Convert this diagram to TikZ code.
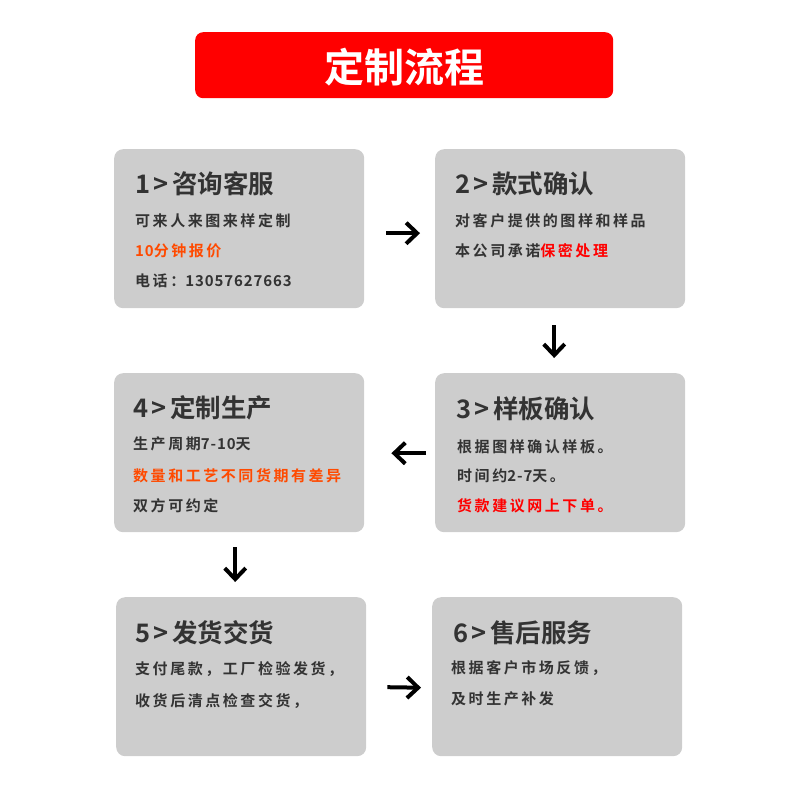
\documentclass[tikz,border=0pt]{standalone}
\usepackage{fontspec}
\newfontfamily\cjkb{Noto Sans CJK SC Bold}
\newfontfamily\cjkl[LetterSpace=17]{Noto Sans CJK SC Bold}
\newfontfamily\cjkd[LetterSpace=6]{Noto Sans CJK SC Bold}
\newcommand{\dg}[1]{{\cjkd #1}}
\usetikzlibrary{arrows.meta,calc}
\definecolor{boxgray}{HTML}{CDCDCD}
\definecolor{txt}{HTML}{333333}
\definecolor{orng}{HTML}{FF4A00}
\definecolor{rd}{HTML}{FF0000}
\begin{document}
\begin{tikzpicture}[x=1pt,y=-1pt,
  card/.style={fill=boxgray, rounded corners=9pt, minimum width=250pt, minimum height=159pt, inner sep=0pt, anchor=north west},
  head/.style={anchor=base west, inner sep=0pt, text=txt, font=\cjkb\fontsize{25.5}{25.5}\selectfont},
  body/.style={anchor=base west, inner sep=0pt, text=txt, font=\cjkl\fontsize{15}{15}\selectfont},
  arr/.style={line width=4pt, -{Straight Barb[length=11pt,width=21pt]}}
]
\useasboundingbox (0,0) rectangle (800,800);
% title
\node[fill=rd, rounded corners=8pt, minimum width=418pt, minimum height=66pt, inner sep=0pt, anchor=north west] (title) at (195,32) {};
\node[text=white, inner sep=0pt, anchor=base, font=\cjkb\fontsize{40}{40}\selectfont] (tt) at ($(title.center)+(0,17)$) {定制流程};
% cards
\node[card] (b1) at (114,149) {};
\node[card] (b2) at (435,149) {};
\node[card] (b4) at (114,373) {};
\node[card] (b3) at (435,373) {};
\node[card] (b5) at (116,597) {};
\node[card] (b6) at (432,597) {};
% box 1
\node[head] (h1) at (135,193) {1\kern3pt>\kern4pt咨询客服};
\node[body] (l11) at (135,226) {可来人来图来样定制};
\node[body, text=orng] (l12) at (135,256) {\dg{10}分钟报价};
\node[body] (l13) at (135,286) {电话：\dg{13057627663}};
% box 2
\node[head] (h2) at (455,193) {2\kern3pt>\kern4pt款式确认};
\node[body] (l21) at (455,226) {对客户提供的图样和样品};
\node[body] (l22) at (455,256) {本公司承诺\textcolor{rd}{保密处理}};
% box 4
\node[head] (h4) at (133,417) {4\kern3pt>\kern4pt定制生产};
\node[body] (l41) at (133,449) {生产周期\dg{7-10}天};
\node[body, text=orng] (l42) at (133,481) {数量和工艺不同货期有差异};
\node[body] (l43) at (133,511) {双方可约定};
% box 3
\node[head] (h3) at (456,418) {3\kern3pt>\kern4pt样板确认};
\node[body] (l31) at (457,452) {根据图样确认样板。};
\node[body] (l32) at (457,481) {时间约\dg{2-7}天。};
\node[body, text=rd] (l33) at (457,511) {货款建议网上下单。};
% box 5
\node[head] (h5) at (135,642) {5\kern3pt>\kern4pt发货交货};
\node[body] (l51) at (135,674) {支付尾款，工厂检验发货，};
\node[body] (l52) at (135,706) {收货后清点检查交货，};
% box 6
\node[head] (h6) at (453,642) {6\kern3pt>\kern4pt售后服务};
\node[body] (l61) at (451,673) {根据客户市场反馈，};
\node[body] (l62) at (451,704) {及时生产补发};
% arrows
\draw[arr] ($(b1.east)+(22,4.5)$) -- ($(b2.west)+(-15,4.5)$);
\draw[arr] ($(b2.south)+(-6,17)$) -- ($(b3.north)+(-6,-15)$);
\draw[arr] ($(b3.west)+(-9,0.5)$) -- ($(b4.east)+(27,0.5)$);
\draw[arr] ($(b4.south)+(-4,15)$) -- ($(b5.north)+(-6,-15)$);
\draw[arr] ($(b5.east)+(21,10.5)$) -- ($(b6.west)+(-11,11)$);
\end{tikzpicture}
\end{document}
